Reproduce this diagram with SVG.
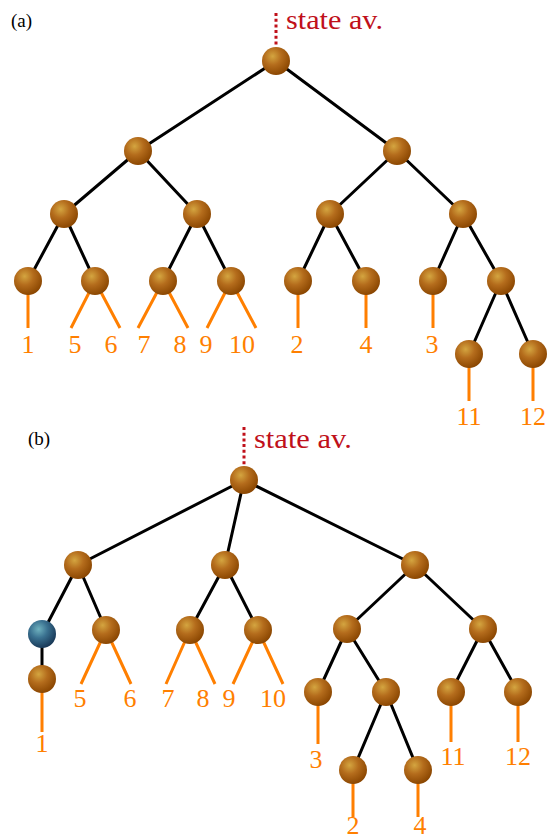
<svg xmlns="http://www.w3.org/2000/svg" width="548" height="839" viewBox="0 0 548 839">
<defs>
<radialGradient id="gBrown" cx="0.38" cy="0.33" r="0.7">
<stop offset="0" stop-color="#d4a540"/>
<stop offset="0.45" stop-color="#b46c1c"/>
<stop offset="1" stop-color="#894500"/>
</radialGradient>
<radialGradient id="gBlue" cx="0.38" cy="0.33" r="0.7">
<stop offset="0" stop-color="#6fb2bf"/>
<stop offset="0.45" stop-color="#3a7190"/>
<stop offset="1" stop-color="#173655"/>
</radialGradient>
</defs>
<style>
.e{stroke:#000;stroke-width:3;fill:none}
.o{stroke:#ff7f00;stroke-width:3;fill:none}
.d{stroke:#c0101a;stroke-width:3;stroke-dasharray:3 2.7;fill:none}
.n{fill:url(#gBrown)}
.nb{fill:url(#gBlue)}
.lab{font-family:"Liberation Serif",serif;font-size:26px;fill:#ff7f00;text-anchor:middle}
.sa{font-family:"Liberation Serif",serif;font-size:27px;fill:#c0101a}
.pl{font-family:"Liberation Serif",serif;font-size:19px;fill:#000}
</style>
<text class="pl" x="11" y="27">(a)</text>
<text class="pl" x="28" y="445">(b)</text>
<g id="connectors">
<path class="d" d="M276 13V47"/>
<path class="d" d="M244 427V467"/>
<g id="edges-a">
<path class="e" d="M276 61L138 151M276 61L397 151M138 151L64 214M138 151L197 214M397 151L330 214M397 151L463 214M64 214L28 281M64 214L95 281M197 214L163 281M197 214L231 281M330 214L298 281M330 214L366 281M463 214L433 281M463 214L501 281M501 281L469 354M501 281L533 354"/>
<path class="o" d="M28 281V328M95 281L71 328M95 281L120 328M163 281L138 328M163 281L188 328M231 281L207 328M231 281L256 328M298 281V328M366 281V328M433 281V328M469 354V401M533 354V401"/>
</g>
<g id="edges-b">
<path class="e" d="M244 480L78 565M244 480L225 565M244 480L415 565M78 565L42 634M78 565L106 630M225 565L190 630M225 565L258 630M415 565L347 629M415 565L483 629M42 634L42 679M347 629L318 692M347 629L386 692M483 629L451 692M483 629L518 692M386 692L353 770M386 692L418 770"/>
<path class="o" d="M42 679V732M106 630L81 684M106 630L131 684M190 630L166 684M190 630L215 684M258 630L233 684M258 630L283 684M318 692V744M451 692V742M518 692V742M353 770V817M418 770V817"/>
</g>
</g>
<g id="a0"><circle class="n" cx="276" cy="61" r="14"/><text class="sa" x="286" y="29" textLength="97" lengthAdjust="spacingAndGlyphs">state av.</text></g>
<g id="a1"><circle class="n" cx="138" cy="151" r="14"/></g>
<g id="a2"><circle class="n" cx="397" cy="151" r="14"/></g>
<g id="a3"><circle class="n" cx="64" cy="214" r="14"/></g>
<g id="a4"><circle class="n" cx="197" cy="214" r="14"/></g>
<g id="a5"><circle class="n" cx="330" cy="214" r="14"/></g>
<g id="a6"><circle class="n" cx="463" cy="214" r="14"/></g>
<g id="a7"><circle class="n" cx="28" cy="281" r="14"/><text class="lab" x="28" y="353">1</text></g>
<g id="a8"><circle class="n" cx="95" cy="281" r="14"/><text class="lab" x="75" y="353">5</text><text class="lab" x="111" y="353">6</text></g>
<g id="a9"><circle class="n" cx="163" cy="281" r="14"/><text class="lab" x="144" y="353">7</text><text class="lab" x="180" y="353">8</text></g>
<g id="a10"><circle class="n" cx="231" cy="281" r="14"/><text class="lab" x="206" y="353">9</text><text class="lab" x="242" y="353">10</text></g>
<g id="a11"><circle class="n" cx="298" cy="281" r="14"/><text class="lab" x="297" y="353">2</text></g>
<g id="a12"><circle class="n" cx="366" cy="281" r="14"/><text class="lab" x="366" y="353">4</text></g>
<g id="a13"><circle class="n" cx="433" cy="281" r="14"/><text class="lab" x="432" y="353">3</text></g>
<g id="a14"><circle class="n" cx="501" cy="281" r="14"/></g>
<g id="a15"><circle class="n" cx="469" cy="354" r="14"/><text class="lab" x="469" y="425">11</text></g>
<g id="a16"><circle class="n" cx="533" cy="354" r="14"/><text class="lab" x="533" y="425">12</text></g>
<g id="b0"><circle class="n" cx="244" cy="480" r="14"/><text class="sa" x="254" y="448" textLength="98" lengthAdjust="spacingAndGlyphs">state av.</text></g>
<g id="b1"><circle class="n" cx="78" cy="565" r="14"/></g>
<g id="b2"><circle class="n" cx="225" cy="565" r="14"/></g>
<g id="b3"><circle class="n" cx="415" cy="565" r="14"/></g>
<g id="b4"><circle class="nb" cx="42" cy="634" r="14"/></g>
<g id="b5"><circle class="n" cx="106" cy="630" r="14"/><text class="lab" x="80" y="707">5</text><text class="lab" x="130" y="707">6</text></g>
<g id="b6"><circle class="n" cx="190" cy="630" r="14"/><text class="lab" x="168" y="707">7</text><text class="lab" x="203" y="707">8</text></g>
<g id="b7"><circle class="n" cx="258" cy="630" r="14"/><text class="lab" x="229" y="707">9</text><text class="lab" x="273" y="707">10</text></g>
<g id="b8"><circle class="n" cx="347" cy="629" r="14"/></g>
<g id="b9"><circle class="n" cx="483" cy="629" r="14"/></g>
<g id="b10"><circle class="n" cx="42" cy="679" r="14"/><text class="lab" x="42" y="752">1</text></g>
<g id="b11"><circle class="n" cx="318" cy="692" r="14"/><text class="lab" x="316" y="768">3</text></g>
<g id="b12"><circle class="n" cx="386" cy="692" r="14"/></g>
<g id="b13"><circle class="n" cx="451" cy="692" r="14"/><text class="lab" x="453" y="765">11</text></g>
<g id="b14"><circle class="n" cx="518" cy="692" r="14"/><text class="lab" x="518" y="765">12</text></g>
<g id="b15"><circle class="n" cx="353" cy="770" r="14"/><text class="lab" x="353" y="834">2</text></g>
<g id="b16"><circle class="n" cx="418" cy="770" r="14"/><text class="lab" x="420" y="834">4</text></g>
</svg>
